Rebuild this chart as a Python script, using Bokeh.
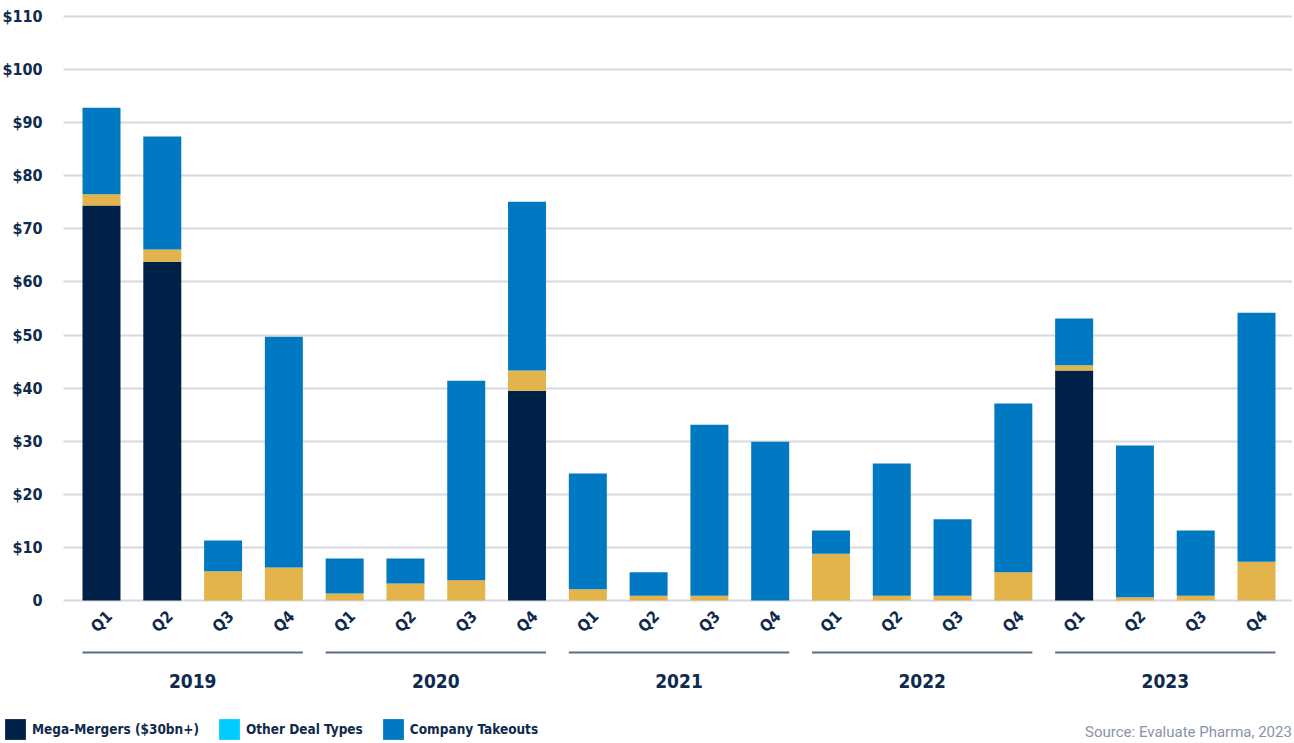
import math
from bokeh.plotting import figure
from bokeh.models import (ColumnDataSource, Range1d, FixedTicker, Legend, LegendItem)
from bokeh.core.properties import value
from bokeh.embed import file_html
from bokeh.resources import INLINE

# ---------------- data ----------------
years = ["2019", "2020", "2021", "2022", "2023"]
quarters = ["Q1", "Q2", "Q3", "Q4"]
mega_mergers = [74.4, 63.8, 0, 0,
                0, 0, 0, 39.5,
                0, 0, 0, 0,
                0, 0, 0, 0,
                43.3, 0, 0, 0]
other_deals = [2.1, 2.3, 5.5, 6.2,
               1.3, 3.2, 3.8, 3.8,
               2.1, 0.9, 0.9, 0.0,
               8.8, 0.9, 0.9, 5.3,
               1.0, 0.6, 0.9, 7.3]
company_takeouts = [16.3, 21.3, 5.8, 43.5,
                    6.6, 4.7, 37.6, 31.8,
                    21.8, 4.4, 32.2, 29.9,
                    4.4, 24.9, 14.4, 31.8,
                    8.8, 28.6, 12.3, 46.9]
y_ticks = [0, 10, 20, 30, 40, 50, 60, 70, 80, 90, 100, 110]
y_tick_labels = ["0"] + ["$%d" % t for t in y_ticks[1:]]
series_names = ["Mega-Mergers ($30bn+)", "Other Deal Types", "Company Takeouts"]
source_note = "Source: Evaluate Pharma, 2023"

# ---------------- styles / layout ----------------
NAVY = "#002147"
GOLD = "#E2B44B"
CYAN = "#00CCFF"
BLUE = "#0079C2"
TEXT = "#0f2a4d"
GRID = "#d8d8e0"
YEARLINE = "#5c6d82"
SRC = "#8a92ab"
FONT = "'DejaVu Sans Condensed', Roboto, sans-serif"

W, H = 1292, 741
PX_PER_UNIT = 584 / 110.0          # 0 at y=600 px, 110 at y=16 px
Y_TOP = 110 + 16 / PX_PER_UNIT
Y_BOT = -(H - 600) / PX_PER_UNIT
SLOT = 60.79
FIRST_CENTER_PX = 101
X_START = -FIRST_CENTER_PX / SLOT
X_END = 19 + (W - (FIRST_CENTER_PX + 19 * SLOT)) / SLOT
AXIS_X = -(FIRST_CENTER_PX - 63) / SLOT   # where the value axis / grid begins
BAR_W = 0.625


def py(px):
    """canvas y-pixel (from top) -> data y"""
    return (600 - px) / PX_PER_UNIT


n = len(mega_mergers)
xs = list(range(n))
b1 = mega_mergers
b2 = [m + o for m, o in zip(mega_mergers, other_deals)]
b3 = [a + c for a, c in zip(b2, company_takeouts)]
src = ColumnDataSource(dict(x=xs, m0=[0] * n, m1=b1, o1=b2, t1=b3))

p = figure(width=W, height=H, output_backend="svg", toolbar_location=None,
           x_range=Range1d(X_START, X_END), y_range=Range1d(Y_BOT, Y_TOP),
           min_border_left=0, min_border_right=0, min_border_top=0,
           min_border_bottom=0, outline_line_color=None,
           background_fill_color="white", border_fill_color="white")
p.xaxis.visible = False
p.xgrid.visible = False

yax = p.yaxis[0]
yax.fixed_location = AXIS_X
yax.ticker = FixedTicker(ticks=y_ticks)
yax.major_label_overrides = {t: l for t, l in zip(y_ticks, y_tick_labels)}
yax.axis_line_color = None
yax.major_tick_line_color = None
yax.minor_tick_line_color = None
yax.major_label_standoff = 15
yax.major_label_text_font = FONT
yax.major_label_text_font_style = "bold"
yax.major_label_text_font_size = "16px"
yax.major_label_text_color = TEXT
p.ygrid.grid_line_color = GRID
p.ygrid.grid_line_width = 2
p.ygrid.ticker = FixedTicker(ticks=y_ticks)

# keep the grid lines from running under the value labels
p.quad(left=[X_START], right=[AXIS_X], bottom=[Y_BOT], top=[Y_TOP],
       fill_color="white", line_color=None)

r_mega = p.vbar(x="x", bottom="m0", top="m1", width=BAR_W, source=src,
                fill_color=NAVY, line_color=None)
r_other = p.vbar(x="x", bottom="m1", top="o1", width=BAR_W, source=src,
                 fill_color=GOLD, line_color=None)
r_take = p.vbar(x="x", bottom="o1", top="t1", width=BAR_W, source=src,
                fill_color=BLUE, line_color=None)
# legend swatch for "Other Deal Types" (shown cyan in the original legend)
r_other_legend = p.vbar(x=[0], bottom=[0], top=[0], width=BAR_W,
                        fill_color=CYAN, line_color=None)

# quarter labels
qlab = ColumnDataSource(dict(x=xs, y=[py(621)] * n,
                             t=[quarters[i % 4] for i in xs]))
p.text(x="x", y="y", text="t", source=qlab, angle=math.pi / 4,
       text_align="center", text_baseline="middle",
       text_font=value(FONT), text_font_style="bold",
       text_font_size="16px", text_color=TEXT)

# year underline + year labels
ng = len(years)
g0 = [4 * g - BAR_W / 2 for g in range(ng)]
g1 = [4 * g + 3 + BAR_W / 2 for g in range(ng)]
p.segment(x0=g0, x1=g1, y0=[py(652)] * ng, y1=[py(652)] * ng,
          line_color=YEARLINE, line_width=2)
p.text(x=[4 * g + 1.5 for g in range(ng)], y=[py(680)] * ng,
       text=years, text_align="center", text_baseline="middle",
       text_font=value(FONT), text_font_style="bold",
       text_font_size="19px", text_color=TEXT)

# source note
p.text(x=[X_END - 0.01], y=[py(731)], text=[source_note], text_align="right",
       text_baseline="middle", text_font=value("Roboto"),
       text_font_size="15px", text_color=SRC)

legend = Legend(items=[
    LegendItem(label=series_names[0], renderers=[r_mega]),
    LegendItem(label=series_names[1], renderers=[r_other_legend]),
    LegendItem(label=series_names[2], renderers=[r_take]),
], orientation="horizontal", location=(2, -1))
legend.glyph_width = 26
legend.glyph_height = 26
legend.label_height = 26
legend.label_standoff = 4
legend.spacing = 17
legend.padding = 0
legend.margin = 0
legend.border_line_color = None
legend.background_fill_alpha = 0
legend.label_text_font = FONT
legend.label_text_font_style = "bold"
legend.label_text_font_size = "13.5px"
legend.label_text_color = TEXT
p.add_layout(legend, "center")

open("out.html", "w").write(file_html(p, INLINE))
